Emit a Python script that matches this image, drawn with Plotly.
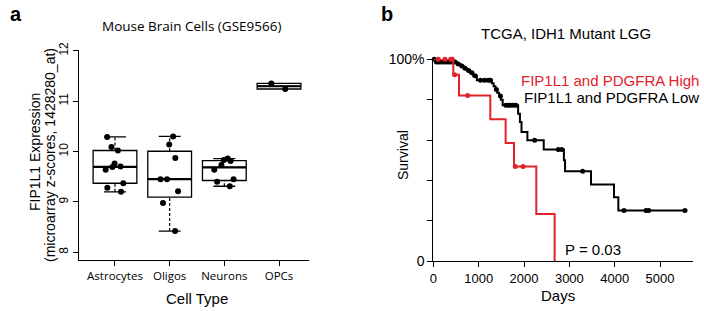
import numpy as np
import plotly.graph_objects as go

# ---------------- data ----------------
categories = ["Astrocytes", "Oligos", "Neurons", "OPCs"]
astrocytes = [10.29, 10.09, 10.02, 9.76, 9.70, 9.69, 9.64, 9.37, 9.28, 9.20]
oligos = [10.30, 10.14, 9.87, 9.45, 9.45, 9.21, 8.98, 8.42]
neurons = [9.86, 9.83, 9.81, 9.73, 9.64, 9.45, 9.40, 9.31]
opcs = [11.35, 11.24]
yticks_a = [8, 9, 10, 11, 12]

high_days = [0, 441, 567, 1257, 1595, 1779, 2271, 2675]
high_surv = [1.0, 0.923, 0.821, 0.703, 0.586, 0.469, 0.234, 0.0]
high_censor_days = [110, 258, 383, 420, 470, 758, 1808, 1978]

low_days = [0, 40, 520, 600, 670, 740, 810, 880, 960, 1290, 1330, 1370, 1410,
            1450, 1490, 1530, 1870, 1910, 1945, 2075, 2435, 2880, 2905, 3477,
            3985, 4080]
low_surv = [1.0, 0.987, 0.977, 0.967, 0.956, 0.945, 0.933, 0.918, 0.896, 0.881,
            0.866, 0.851, 0.835, 0.818, 0.80, 0.772, 0.731, 0.69, 0.640, 0.599,
            0.553, 0.50, 0.446, 0.380, 0.317, 0.252]
low_censor_days = [20, 70, 120, 170, 230, 280, 330, 380, 430, 480, 550, 630, 700,
                   780, 850, 920, 1040, 1130, 1210, 1260, 1390, 1480, 1600, 1650,
                   1700, 1760, 1820, 2235, 2756, 2831, 3294, 4205, 4690, 4750, 5550]

xticks_b = [0, 1000, 2000, 3000, 4000, 5000]
yticks_b = [0, 0.2, 0.4, 0.6, 0.8, 1.0]
yticktext_b = ["0", "", "", "", "", "100%"]

RED = "#e2222b"
ARIAL = "Liberation Sans, Arial, sans-serif"
MYRIAD = "Open Sans, sans-serif"
W, H = 704, 311


def hinges(vals):
    v = sorted(vals)
    n = len(v)
    lower = v[:(n + 1) // 2]
    upper = v[n // 2:]
    return float(np.median(lower)), float(np.median(v)), float(np.median(upper))


def step_at(days, surv, t):
    idx = np.searchsorted(np.array(days), np.array(t), side="right") - 1
    return [surv[i] for i in idx]


fig = go.Figure()
shapes = []
groups = [astrocytes, oligos, neurons, opcs]
for i, d in enumerate(groups):
    q1, med, q3 = hinges(d)
    iqr = q3 - q1
    arr = np.array(d)
    lo = float(arr[arr >= q1 - 1.5 * iqr].min())
    hi = float(arr[arr <= q3 + 1.5 * iqr].max())
    fig.add_trace(go.Box(
        x=[i], q1=[q1], median=[med], q3=[q3], lowerfence=[q1], upperfence=[q3],
        width=0.8, whiskerwidth=0, fillcolor="rgba(255,255,255,0)",
        line=dict(color="black", width=1.3), boxpoints=False,
        showlegend=False, hoverinfo="skip", xaxis="x", yaxis="y"))
    shapes.append(dict(type="line", xref="x", yref="y", x0=i - 0.4, x1=i + 0.4,
                       y0=med, y1=med, layer="below",
                       line=dict(color="black", width=2.2)))
    if hi > q3:
        shapes.append(dict(type="line", xref="x", yref="y", x0=i, x1=i, y0=q3, y1=hi,
                           layer="below", line=dict(color="black", width=1.2, dash="3px,2px")))
        shapes.append(dict(type="line", xref="x", yref="y", x0=i - 0.2, x1=i + 0.2,
                           y0=hi, y1=hi, layer="below", line=dict(color="black", width=1.3)))
    if lo < q1:
        shapes.append(dict(type="line", xref="x", yref="y", x0=i, x1=i, y0=lo, y1=q1,
                           layer="below", line=dict(color="black", width=1.2, dash="3px,2px")))
        shapes.append(dict(type="line", xref="x", yref="y", x0=i - 0.2, x1=i + 0.2,
                           y0=lo, y1=lo, layer="below", line=dict(color="black", width=1.3)))
    fig.add_trace(go.Box(
        x=[i] * len(d), y=d, boxpoints="all", jitter=0.55, pointpos=0, width=0.8,
        fillcolor="rgba(0,0,0,0)", line=dict(color="rgba(0,0,0,0)", width=0),
        marker=dict(color="black", size=6), showlegend=False, hoverinfo="skip",
        xaxis="x", yaxis="y"))

# ---------------- KM curves ----------------
low_x = low_days + [max(low_censor_days)]
low_y = low_surv + [low_surv[-1]]
fig.add_trace(go.Scatter(x=low_x, y=low_y, mode="lines", line=dict(color="black", width=2, shape="hv"),
                         cliponaxis=False, showlegend=False, hoverinfo="skip", xaxis="x2", yaxis="y2"))
fig.add_trace(go.Scatter(x=low_censor_days, y=step_at(low_days, low_surv, low_censor_days),
                         mode="markers", marker=dict(color="black", size=5),
                         cliponaxis=False, showlegend=False, hoverinfo="skip", xaxis="x2", yaxis="y2"))
fig.add_trace(go.Scatter(x=high_days, y=high_surv, mode="lines", line=dict(color=RED, width=2, shape="hv"),
                         cliponaxis=False, showlegend=False, hoverinfo="skip", xaxis="x2", yaxis="y2"))
fig.add_trace(go.Scatter(x=high_censor_days, y=step_at(high_days, high_surv, high_censor_days),
                         mode="markers", marker=dict(color=RED, size=5),
                         cliponaxis=False, showlegend=False, hoverinfo="skip", xaxis="x2", yaxis="y2"))

axis_common = dict(showline=True, linecolor="black", linewidth=1.1, ticks="outside",
                   ticklen=5, tickwidth=1.1, tickcolor="black", showgrid=False,
                   zeroline=False, fixedrange=True, automargin=False)


def px(x):
    return x / W


def py(y):
    return 1 - y / H


annotations = [
    dict(text="<b>a</b>", x=px(16), y=py(14), font=dict(family=ARIAL, size=20)),
    dict(text="Mouse Brain Cells (GSE9566)", x=px(191), y=py(26), font=dict(family=MYRIAD, size=13.5)),
    dict(text="FIP1L1 Expression", x=px(35), y=py(152), textangle=-90, font=dict(family=ARIAL, size=14)),
    dict(text="(microarray z-scores, 1428280_at)", x=px(50), y=py(155), textangle=-90,
         font=dict(family=ARIAL, size=14)),
    dict(text="Cell Type", x=px(197), y=py(298), font=dict(family=ARIAL, size=15)),
    dict(text="<b>b</b>", x=px(387), y=py(14), font=dict(family=ARIAL, size=20)),
    dict(text="TCGA, IDH1 Mutant LGG", x=px(566), y=py(33), font=dict(family=ARIAL, size=15)),
    dict(text="Survival", x=px(403), y=py(155), textangle=-90, font=dict(family=ARIAL, size=14)),
    dict(text="Days", x=px(558), y=py(295), font=dict(family=ARIAL, size=15)),
    dict(text="FIP1L1 and PDGFRA High", x=px(701), y=py(80), xanchor="right",
         font=dict(family=ARIAL, size=15, color=RED)),
    dict(text="FIP1L1 and PDGFRA Low", x=px(701), y=py(97), xanchor="right",
         font=dict(family=ARIAL, size=15, color="black")),
    dict(text="P = 0.03", x=px(563), y=py(249), xanchor="left", font=dict(family=ARIAL, size=15)),
]
for a in annotations:
    a.setdefault("xanchor", "center")
    a.update(xref="paper", yref="paper", yanchor="middle", showarrow=False)
    a["font"].setdefault("color", "black")

fig.update_layout(
    width=W, height=H, margin=dict(l=0, r=0, t=0, b=0, autoexpand=False),
    paper_bgcolor="white", plot_bgcolor="white", boxmode="overlay", showlegend=False,
    xaxis=dict(axis_common, domain=[px(79), px(309.3)], range=[-0.658, 3.554],
               tickvals=list(range(len(categories))), ticktext=categories,
               tickfont=dict(family=MYRIAD, size=11.5, color="black"), anchor="y"),
    yaxis=dict(axis_common, domain=[py(260), py(50)], range=[7.847, 12.014],
               tickvals=yticks_a, tickangle=-90,
               tickfont=dict(family=ARIAL, size=12, color="black"), anchor="x"),
    xaxis2=dict(axis_common, domain=[px(433.3), px(693.3)], range=[0, 5733],
                tickvals=xticks_b, tickfont=dict(family=ARIAL, size=13, color="black"), anchor="y2"),
    yaxis2=dict(axis_common, domain=[py(261.3), py(59.3)], range=[0, 1],
                tickvals=yticks_b, ticktext=yticktext_b,
                tickfont=dict(family=ARIAL, size=14, color="black"), anchor="x2"),
    shapes=shapes, annotations=annotations,
)

fig.write_html("out.html", config={"displayModeBar": False},
               post_script="document.body.style.margin='0';document.body.style.overflow='hidden';")
